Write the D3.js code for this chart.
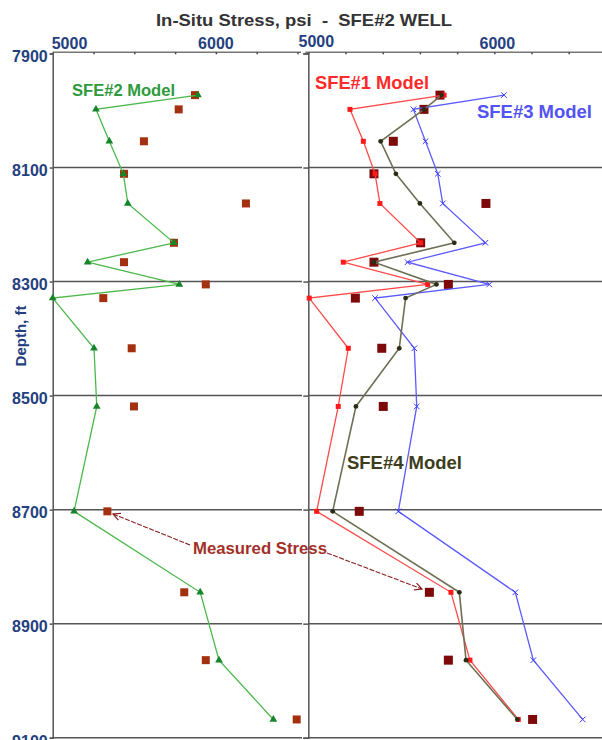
<!DOCTYPE html>
<html>
<head>
	<meta charset="UTF-8">
	<title>In-Situ Stress - SFE#2 Well</title>
	<script src="https://d3js.org/d3.v7.min.js"></script>
	<style>
		body { margin: 0; background: #fff; }
		text { font-family: "Liberation Sans", Arial, sans-serif; font-weight: bold; }
	</style>
</head>
<body>
	<svg width="602" height="740"></svg>
	<script>
		// depths (ft) shared by every model run and the measurements
		var depths = [7973, 7998, 8054, 8111, 8163, 8232, 8266, 8305, 8329, 8417, 8519, 8703, 8845, 8964, 9068];

		// left panel: SFE#2 model and measured stress
		var sfe2 = [5890, 5265, 5347, 5433, 5460, 5743, 5214, 5776, 5000, 5253, 5270, 5131, 5904, 6019, 6352];
		var measuredLeft = [5872, 5772, 5559, 5437, 6184, 5743, 5437, 5938, 5310, 5484, 5498, 5335, 5806, 5938, 6495];

		// right panel: SFE#1, SFE#3, SFE#4 models and measured stress
		var sfe1 = [5730, 5224, 5296, 5359, 5385, 5604, 5188, 5642, 5005, 5215, 5161, 5045, 5767, 5869, 6129];
		var sfe3 = [6052, 5565, 5630, 5696, 5723, 5952, 5534, 5973, 5359, 5570, 5583, 5484, 6113, 6210, 6475];
		var sfe4 = [5717, 5622, 5389, 5471, 5600, 5785, 5353, 5689, 5523, 5489, 5256, 5131, 5812, 5848, 6124];
		var measuredRight = [5708, 5622, 5457, 5353, 5955, 5604, 5353, 5753, 5253, 5395, 5403, 5274, 5651, 5753, 6206];

		var depthTicks = [7900, 8100, 8300, 8500, 8700, 8900, 9100];
		var leftLabels = [5000, 6000];
		var rightLabels = [5000, 6000];

		var svg = d3.select("svg");
		var axisBlue = "#24407e";
		var gridColor = "#555";

		var y = d3.scaleLinear().domain([7900, 9100]).range([53.5, 737.7]);
		var xL = d3.scaleLinear().domain([5000, 6500]).range([52.7, 297.5]);
		var xR = d3.scaleLinear().domain([5000, 6600]).range([308.3, 605.9]);

		// title
		svg.append("text")
			.attr("x", 304).attr("y", 26)
			.attr("text-anchor", "middle")
			.attr("font-size", 17)
			.attr("fill", "#333")
			.attr("textLength", 296)
			.attr("lengthAdjust", "spacingAndGlyphs")
			.style("white-space", "pre")
			.text("In-Situ Stress, psi  -  SFE#2 WELL");

		// horizontal grid lines
		svg.selectAll(".gridL")
			.data(depthTicks.slice(1))
			.enter().append("line")
			.attr("x1", xL(5000)).attr("x2", 302)
			.attr("y1", d => y(d)).attr("y2", d => y(d))
			.attr("stroke", gridColor).attr("stroke-width", 1.5);

		svg.selectAll(".gridR")
			.data(depthTicks.slice(1))
			.enter().append("line")
			.attr("x1", xR(5000)).attr("x2", 602)
			.attr("y1", d => y(d)).attr("y2", d => y(d))
			.attr("stroke", gridColor).attr("stroke-width", 1.5);

		// top axis lines
		svg.append("line")
			.attr("x1", xL(5000)).attr("x2", 301)
			.attr("y1", 52.3).attr("y2", 52.3)
			.attr("stroke", "#777").attr("stroke-width", 1.5);
		svg.append("line")
			.attr("x1", xR(5000) - 3).attr("x2", 602)
			.attr("y1", 52.3).attr("y2", 52.3)
			.attr("stroke", "#777").attr("stroke-width", 1.5);

		// top tick marks
		var topL = svg.append("g")
			.attr("transform", "translate(0,52.3)")
			.call(d3.axisTop(xL).tickValues(d3.range(5000, 6501, 250)).tickSize(-2).tickFormat(""));
		var topR = svg.append("g")
			.attr("transform", "translate(0,52.3)")
			.call(d3.axisTop(xR).tickValues(d3.range(5000, 6601, 200)).tickSize(-2).tickFormat(""));
		[topL, topR].forEach(function (g) {
			g.select(".domain").remove();
			g.selectAll(".tick line").attr("stroke", "#444").attr("stroke-width", 1.5);
		});

		// top tick labels
		svg.selectAll(".lblL")
			.data(leftLabels)
			.enter().append("text")
			.attr("x", d => d === 5000 ? xL(d) - 1 : xL(d))
			.attr("y", 49)
			.attr("text-anchor", d => d === 5000 ? "start" : "middle")
			.attr("font-size", 16)
			.attr("fill", axisBlue)
			.text(d => d);
		svg.selectAll(".lblR")
			.data(rightLabels)
			.enter().append("text")
			.attr("x", d => d === 5000 ? xR(d) + 8 : xR(d) + 3)
			.attr("y", d => d === 5000 ? 47 : 49)
			.attr("text-anchor", "middle")
			.attr("font-size", 16)
			.attr("fill", axisBlue)
			.text(d => d);

		// left depth axis
		var yAxis = svg.append("g")
			.attr("transform", "translate(" + xL(5000) + ",0)")
			.call(d3.axisLeft(y).tickValues(depthTicks).tickSize(3).tickPadding(2).tickFormat(d3.format("d")));
		yAxis.select(".domain").attr("stroke", gridColor).attr("stroke-width", 1.5);
		yAxis.selectAll(".tick line").attr("stroke", gridColor).attr("stroke-width", 1.5);
		yAxis.selectAll(".tick text")
			.attr("font-size", 16)
			.attr("fill", axisBlue)
			.attr("dy", "0.52em")
			.style("font-family", "'Liberation Sans', Arial, sans-serif")
			.style("font-weight", "bold");

		// right panel vertical axis with small ticks
		var yAxisR = svg.append("g")
			.attr("transform", "translate(" + xR(5000) + ",0)")
			.call(d3.axisLeft(y).tickValues(depthTicks).tickSize(5).tickFormat(""));
		yAxisR.select(".domain").attr("stroke", gridColor).attr("stroke-width", 1.5);
		yAxisR.selectAll(".tick line").attr("stroke", gridColor).attr("stroke-width", 1.5);

		svg.append("text")
			.attr("transform", "translate(26,336) rotate(-90)")
			.attr("text-anchor", "middle")
			.attr("font-size", 15)
			.attr("fill", axisBlue)
			.text("Depth, ft");

		// measured stress squares
		function squares(values, x, size, color) {
			svg.append("g").selectAll("rect")
				.data(values)
				.enter().append("rect")
				.attr("x", (d, i) => x(d) - size / 2)
				.attr("y", (d, i) => y(depths[i]) - size / 2)
				.attr("width", size).attr("height", size)
				.attr("fill", color);
		}
		squares(measuredLeft, xL, 8, "#a3300f");
		squares(measuredRight, xR, 9, "#7d0a0a");

		// model lines
		function modelLine(values, x, color, width) {
			var line = d3.line()
				.x(d => x(d))
				.y((d, i) => y(depths[i]));
			svg.append("path")
				.datum(values)
				.attr("d", line)
				.attr("fill", "none")
				.attr("stroke", color)
				.attr("stroke-width", width);
		}

		modelLine(sfe2, xL, "#4cb84c", 1.3);
		svg.append("g").selectAll("path")
			.data(sfe2)
			.enter().append("path")
			.attr("d", d3.symbol().type(d3.symbolTriangle).size(26))
			.attr("transform", (d, i) => "translate(" + xL(d) + "," + y(depths[i]) + ")")
			.attr("fill", "#15852a");

		modelLine(sfe1, xR, "#ff4a4a", 1.3);
		svg.append("g").selectAll("rect")
			.data(sfe1)
			.enter().append("rect")
			.attr("x", d => xR(d) - 2.5)
			.attr("y", (d, i) => y(depths[i]) - 2.5)
			.attr("width", 5).attr("height", 5)
			.attr("fill", "#ff1a1a");

		modelLine(sfe3, xR, "#5a5aff", 1.3);
		svg.append("g").selectAll("path")
			.data(sfe3)
			.enter().append("path")
			.attr("d", d3.symbol().type(d3.symbolX).size(22))
			.attr("transform", (d, i) => "translate(" + xR(d) + "," + y(depths[i]) + ")")
			.attr("fill", "none")
			.attr("stroke", "#3a3aff")
			.attr("stroke-width", 1);

		modelLine(sfe4, xR, "#6f6f55", 1.6);
		svg.append("g").selectAll("circle")
			.data(sfe4)
			.enter().append("circle")
			.attr("cx", d => xR(d))
			.attr("cy", (d, i) => y(depths[i]))
			.attr("r", 2.4)
			.attr("fill", "#2c2c16");

		// model labels
		var labels = [
			{ t: "SFE#2 Model", x: 72, y: 96, c: "#2e9a3e", s: 16, w: 103 },
			{ t: "SFE#1 Model", x: 315, y: 89, c: "#ff2a2a", s: 18, w: 114 },
			{ t: "SFE#3 Model", x: 477, y: 118, c: "#5252f5", s: 18, w: 115 },
			{ t: "SFE#4 Model", x: 347, y: 469, c: "#3d3d1c", s: 18, w: 115 },
			{ t: "Measured Stress", x: 193, y: 554, c: "#a3302a", s: 16.5, w: 134 }
		];
		svg.selectAll(".lab")
			.data(labels)
			.enter().append("text")
			.attr("x", d => d.x).attr("y", d => d.y)
			.attr("font-size", d => d.s)
			.attr("fill", d => d.c)
			.attr("textLength", d => d.w)
			.attr("lengthAdjust", "spacingAndGlyphs")
			.text(d => d.t);

		// arrows from the "Measured Stress" label
		svg.append("defs").append("marker")
			.attr("id", "arr")
			.attr("viewBox", "0 0 10 10")
			.attr("refX", 9).attr("refY", 5)
			.attr("markerWidth", 9).attr("markerHeight", 9)
			.attr("markerUnits", "userSpaceOnUse")
			.attr("orient", "auto")
			.append("path")
			.attr("d", "M1,1 L9,5 L1,9")
			.attr("fill", "none")
			.attr("stroke", "#8b1e1e")
			.attr("stroke-width", 1.3);

		var arrows = [
			{ x1: 190, y1: 545, x2: 113, y2: 514 },
			{ x1: 327, y1: 553, x2: 422, y2: 589 }
		];
		svg.selectAll(".arrow")
			.data(arrows)
			.enter().append("line")
			.attr("x1", d => d.x1).attr("y1", d => d.y1)
			.attr("x2", d => d.x2).attr("y2", d => d.y2)
			.attr("stroke", "#8b1e1e")
			.attr("stroke-width", 1.1)
			.attr("stroke-dasharray", "5,1.5")
			.attr("marker-end", "url(#arr)");
	</script>
</body>
</html>
